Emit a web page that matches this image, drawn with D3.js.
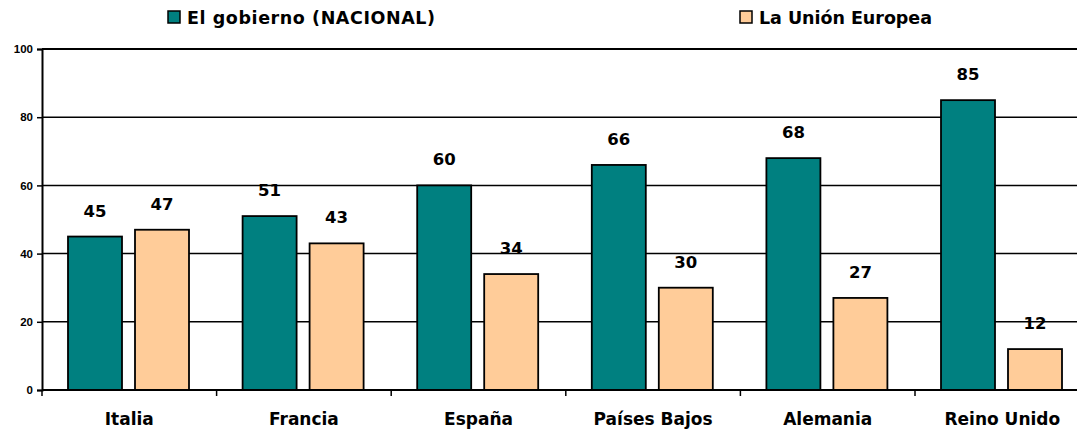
<!DOCTYPE html>
<html>
<head>
<meta charset="utf-8">
<script src="https://cdn.jsdelivr.net/npm/d3@7"></script>
<style>
  body { margin: 0; background: #fff; }
  text { font-family: "DejaVu Sans", Verdana, sans-serif; font-weight: bold; }
</style>
</head>
<body>
<svg id="chart"></svg>
<script>
// data
const countries = ["Italia", "Francia", "España", "Países Bajos", "Alemania", "Reino Unido"];
const nacional = [45, 51, 60, 66, 68, 85];
const europea = [47, 43, 34, 30, 27, 12];
const seriesNames = ["El gobierno (NACIONAL)", "La Unión Europea"];
const yTicks = [0, 20, 40, 60, 80, 100];

const width = 1077, height = 432;
const svg = d3.select("#chart").attr("width", width).attr("height", height);

const plotLeft = 42, plotTop = 49, plotBottom = 390;
const band = 174.6;

const x = d3.scaleBand()
    .domain(countries)
    .range([plotLeft, plotLeft + band * countries.length]);

const y = d3.scaleLinear().domain([0, 100]).range([plotBottom, plotTop]);

const colors = ["#008080", "#FFCC99"];

// gridlines
svg.selectAll(".grid")
    .data(yTicks.filter(d => d > 0))
    .join("line")
    .attr("x1", plotLeft).attr("x2", width)
    .attr("y1", d => y(d)).attr("y2", d => y(d))
    .attr("stroke", "#000").attr("stroke-width", d => d === 100 ? 2 : 1.5);

// y axis
const yAxis = svg.append("g")
    .attr("transform", `translate(${plotLeft},0)`)
    .call(d3.axisLeft(y).tickValues(yTicks).tickSize(5).tickPadding(4));
yAxis.select(".domain").attr("stroke-width", 2);
yAxis.selectAll("line").attr("stroke-width", 1.5);
yAxis.selectAll("text").attr("font-size", 11.5).attr("fill", "#000")
    .style("font-family", "Liberation Sans, Arial, sans-serif");

// bars
const inner = d3.scaleBand().domain([0, 1]).range([26, 147]).paddingInner(0.194);

const groups = svg.selectAll(".grp")
    .data(countries)
    .join("g")
    .attr("transform", d => `translate(${x(d)},0)`);

const rows = countries.map((c, i) => [nacional[i], europea[i]]);

groups.selectAll("rect")
    .data((d, i) => rows[i].map((v, s) => ({ v, s })))
    .join("rect")
    .attr("x", d => inner(d.s))
    .attr("width", inner.bandwidth())
    .attr("y", d => y(d.v))
    .attr("height", d => y(0) - y(d.v))
    .attr("fill", d => colors[d.s])
    .attr("stroke", "#000")
    .attr("stroke-width", 1.8);

groups.selectAll(".val")
    .data((d, i) => rows[i].map((v, s) => ({ v, s })))
    .join("text")
    .attr("x", d => inner(d.s) + inner.bandwidth() / 2)
    .attr("y", d => y(d.v) - 20)
    .attr("text-anchor", "middle")
    .attr("font-size", 16.5)
    .text(d => d.v);

// x axis
const xAxis = svg.append("g")
    .attr("transform", `translate(0,${plotBottom})`)
    .call(d3.axisBottom(x).tickSize(0).tickPadding(20));
xAxis.select(".domain").remove();
svg.append("line")
    .attr("x1", plotLeft).attr("x2", width)
    .attr("y1", plotBottom).attr("y2", plotBottom)
    .attr("stroke", "#000").attr("stroke-width", 2);
svg.selectAll(".xtick")
    .data(countries)
    .join("line")
    .attr("x1", d => x(d)).attr("x2", d => x(d))
    .attr("y1", plotBottom).attr("y2", plotBottom + 6)
    .attr("stroke", "#000").attr("stroke-width", 1.5);
xAxis.selectAll("text").attr("font-size", 17).attr("fill", "#000").attr("dy", "0.9em");

// legend
const legendX = [168, 740];
const legendW = [248, 173];
const legend = svg.selectAll(".leg")
    .data(seriesNames)
    .join("g")
    .attr("transform", (d, i) => `translate(${legendX[i]},11)`);
legend.append("rect")
    .attr("width", 12).attr("height", 12)
    .attr("fill", (d, i) => colors[i])
    .attr("stroke", "#000").attr("stroke-width", 1.5);
legend.append("text")
    .attr("x", 19).attr("y", 13)
    .attr("font-size", 17.5)
    .attr("textLength", (d, i) => legendW[i])
    .attr("lengthAdjust", "spacing")
    .text(d => d);
</script>
</body>
</html>
